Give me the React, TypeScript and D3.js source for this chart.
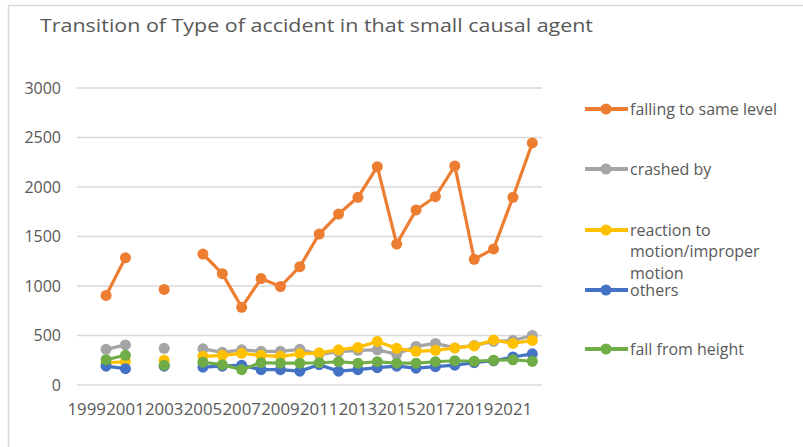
import * as d3 from "d3";

const years = ["1999", "2000", "2001", "2002", "2003", "2004", "2005", "2006", "2007", "2008", "2009", "2010", "2011", "2012", "2013", "2014", "2015", "2016", "2017", "2018", "2019", "2020", "2021", "2022"];

const fallingSameLevel = [null, 905, 1285, null, 965, null, 1323, 1125, 785, 1075, 995, 1195, 1525, 1727, 1896, 2205, 1424, 1768, 1902, 2212, 1270, 1375, 1896, 2445];
const crashedBy = [null, 360, 405, null, 370, null, 365, 330, 355, 340, 340, 360, 310, 336, 350, 355, 310, 390, 420, 375, 400, 440, 450, 500];
const reactionToMotion = [null, 225, 235, null, 250, null, 290, 300, 320, 300, 290, 315, 325, 355, 380, 440, 370, 340, 350, 375, 395, 455, 420, 450];
const others = [null, 190, 165, null, 190, null, 180, 190, 200, 155, 155, 140, 205, 140, 155, 175, 190, 170, 185, 200, 225, 245, 283, 315];
const fallFromHeight = [null, 255, 300, null, 200, null, 230, 205, 155, 225, 220, 220, 225, 235, 220, 235, 220, 220, 235, 245, 240, 250, 255, 240];

const yTicks = [0, 500, 1000, 1500, 2000, 2500, 3000];

const seriesNames = ["falling to same level", "crashed by", "reaction to motion/improper motion", "others", "fall from height"];
const seriesColors = ["#ED7D31", "#A5A5A5", "#FFC000", "#4472C4", "#70AD47"];
const seriesValues = [fallingSameLevel, crashedBy, reactionToMotion, others, fallFromHeight];

// legend rows, the third name wraps over three lines like the original
const legendLines = [["falling to same level"], ["crashed by"], ["reaction to", "motion/improper", "motion"], ["others"], ["fall from height"]];
const legendY = [109, 169, 230, 290, 349];

export default function App() {
    const width = 803;
    const height = 447;
    const plot = { left: 77, right: 542, top: 88, bottom: 385 };
    const font = "'Open Sans', sans-serif";
    const textColor = "#595959";

    const xScale = d3.scaleBand().domain(years).range([plot.left, plot.right]);
    const xCenter = (yr: string) => (xScale(yr) ?? 0) + xScale.bandwidth() / 2;
    const yScale = d3.scaleLinear().domain([0, 3000]).range([plot.bottom, plot.top]);

    const line = d3
        .line<number | null>()
        .defined((d) => d != null)
        .x((_, i) => xCenter(years[i]))
        .y((d) => yScale(d as number));

    return (
        <div style={{ position: "absolute", left: 0, top: 0 }}>
            <svg width={width} height={height} viewBox={`0 0 ${width} ${height}`} style={{ display: "block", background: "#fff" }}>
                <rect x={8.5} y={5.5} width={820} height={470} fill="#fff" stroke="#d9d9d9" strokeWidth={1.5} />

                <text x={40} y={32} fontFamily={font} fontSize={19} fill={textColor} textLength={553} lengthAdjust="spacingAndGlyphs">
                    Transition of Type of accident in that small causal agent
                </text>

                {yTicks.map((t) => (
                    <g key={t}>
                        <line x1={plot.left} x2={plot.right} y1={yScale(t)} y2={yScale(t)} stroke="#d9d9d9" strokeWidth={1.5} />
                        <text x={61} y={yScale(t) + 5.5} textAnchor="end" fontFamily={font} fontSize={16} fill={textColor}>
                            {t}
                        </text>
                    </g>
                ))}

                {years.map((yr, i) =>
                    i % 2 === 0 ? (
                        <text key={yr} x={xCenter(yr)} y={415} textAnchor="middle" fontFamily={font} fontSize={16.8} fill={textColor}>
                            {yr}
                        </text>
                    ) : null
                )}

                {seriesValues.map((vals, s) => (
                    <g key={seriesNames[s]}>
                        <path d={line(vals) ?? ""} fill="none" stroke={seriesColors[s]} strokeWidth={3.2} strokeLinejoin="round" />
                        {vals.map((v, i) =>
                            v == null ? null : (
                                <circle key={years[i]} cx={xCenter(years[i])} cy={yScale(v)} r={5.5} fill={seriesColors[s]} />
                            )
                        )}
                    </g>
                ))}

                {legendLines.map((lines, s) => (
                    <g key={seriesNames[s]}>
                        <line x1={585} x2={628} y1={legendY[s]} y2={legendY[s]} stroke={seriesColors[s]} strokeWidth={4} />
                        <circle cx={606} cy={legendY[s]} r={5.5} fill={seriesColors[s]} />
                        {lines.map((ln, j) => (
                            <text key={ln} x={630} y={legendY[s] + 5.5 + j * 21.5} fontFamily={font} fontSize={16} fill={textColor}>
                                {ln}
                            </text>
                        ))}
                    </g>
                ))}
            </svg>
        </div>
    );
}
